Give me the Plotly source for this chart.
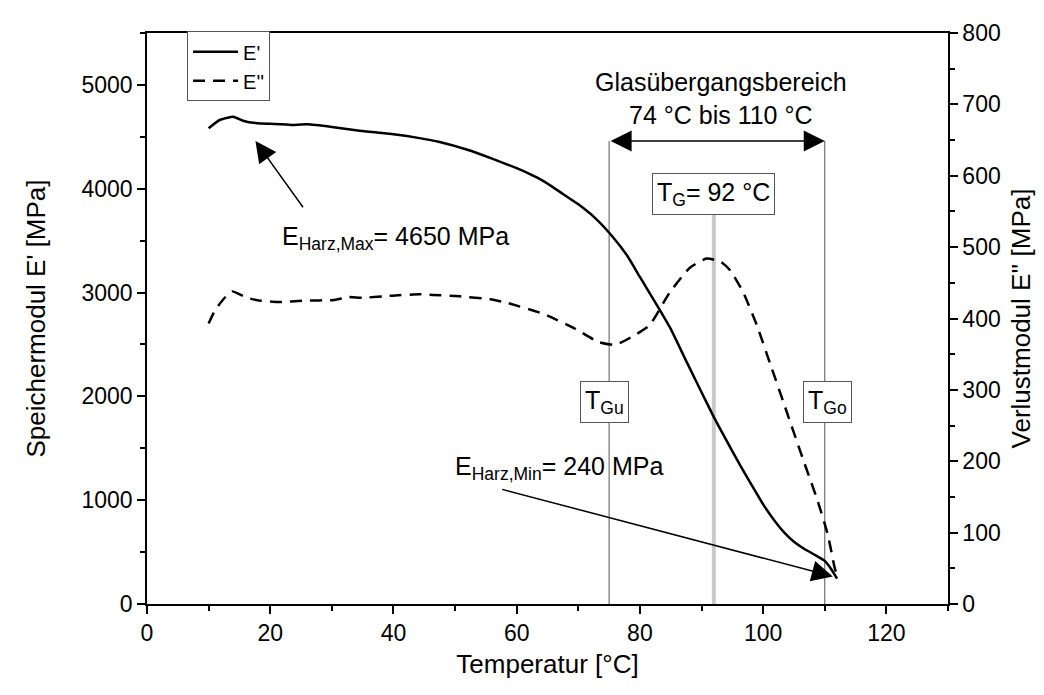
import plotly.graph_objects as go

# ---- data ----
temp_storage = [10, 11.8, 14, 15.7, 17.9, 20, 23.4, 26, 30, 33, 36, 40, 44, 47.5, 52, 56, 60, 62,
                64, 65.5, 67, 70, 72.7, 75.4, 78, 80, 83, 85, 87.5, 90, 92, 94, 96.3, 98, 100, 102,
                103.4, 105, 106.7, 108.5, 110, 111, 112]
e_storage = [4583, 4662, 4694, 4653, 4631, 4625, 4615, 4620, 4595, 4570, 4548, 4525, 4490, 4450,
             4375, 4290, 4198, 4145, 4085, 4030, 3970, 3850, 3720, 3550, 3350, 3150, 2855, 2650,
             2342, 2040, 1800, 1580, 1332, 1160, 960, 790, 690, 600, 530, 470, 415, 340, 245]

temp_loss = [10, 11, 12.4, 13.8, 16.2, 18.4, 21.2, 25.5, 30.4, 32.7, 34.9, 39.8, 44.2, 46.4, 50.8,
             55.7, 58.4, 64.5, 69.4, 73.3, 76, 78.2, 81.5, 84.8, 88.1, 90.8, 93, 94.6, 96.8, 99,
             101.2, 103.4, 106.1, 108.9, 110.5, 111.6, 112]
e_loss = [393, 411, 427, 438, 429, 425, 423, 425, 426, 430, 429, 432, 434, 433, 431, 427, 422,
          406, 386, 367, 363, 372, 390, 436, 471, 484, 480, 468, 436, 390, 335, 280, 212, 143,
          97, 51, 40]

t_lower, t_glass, t_upper = 75, 92, 110
e_max_point = (17.6, 4460)
e_min_point = (111.3, 265)

x_ticks = [0, 20, 40, 60, 80, 100, 120]
y1_ticks = [0, 1000, 2000, 3000, 4000, 5000]
y2_ticks = [0, 100, 200, 300, 400, 500, 600, 700, 800]

FONT = "Arial, Liberation Sans, sans-serif"

fig = go.Figure()
fig.add_trace(go.Scatter(x=temp_storage, y=e_storage, name="E'", mode="lines",
                         line=dict(color="black", width=2.5, shape="spline", smoothing=0.4),
                         yaxis="y"))
fig.add_trace(go.Scatter(x=temp_loss, y=e_loss, name="E''", mode="lines",
                         line=dict(color="black", width=2.5, dash="12px,8px", shape="spline", smoothing=0.5),
                         yaxis="y2"))

arrow_y = 4460
line_col = "#555555"
shapes = [
    dict(type="line", xref="x", yref="y", x0=t_lower, x1=t_lower, y0=0, y1=arrow_y,
         line=dict(color=line_col, width=1), layer="below"),
    dict(type="line", xref="x", yref="y", x0=t_upper, x1=t_upper, y0=0, y1=arrow_y,
         line=dict(color=line_col, width=1), layer="below"),
    dict(type="line", xref="x", yref="y", x0=t_glass, x1=t_glass, y0=0, y1=3900,
         line=dict(color="#c8c8c8", width=4), layer="below"),
]

box = dict(bordercolor=line_col, borderwidth=1, bgcolor="white", borderpad=4,
           showarrow=False, font=dict(size=25, color="black", family=FONT))

annotations = [
    # double arrow glass transition range
    dict(x=t_upper, y=arrow_y, ax=t_lower, ay=arrow_y, xref="x", yref="y", axref="x", ayref="y",
         text="", showarrow=True, arrowhead=2, startarrowhead=2, arrowside="end+start",
         arrowsize=2.8, startarrowsize=2.8, arrowwidth=1.5, arrowcolor="black"),
    dict(x=93.1, y=4867, xref="x", yref="y", text="Glasübergangsbereich<br>74 °C bis 110 °C",
         showarrow=False, font=dict(size=25, color="black", family=FONT)),
    dict(x=92.0, y=3945, xref="x", yref="y", text="T<sub>G</sub>= 92 °C", **box),
    dict(x=74.3, y=1950, xref="x", yref="y", text="T<sub>Gu</sub>", **box),
    dict(x=110.4, y=1950, xref="x", yref="y", text="T<sub>Go</sub>", **box),
    # E max
    dict(x=e_max_point[0], y=e_max_point[1], ax=25.5, ay=3807, xref="x", yref="y",
         axref="x", ayref="y", text="", showarrow=True, arrowhead=2, arrowsize=2.8,
         arrowwidth=1.5, arrowcolor="black"),
    dict(x=40.3, y=3523, xref="x", yref="y", text="E<sub>Harz,Max</sub>= 4650 MPa",
         showarrow=False, font=dict(size=25, color="black", family=FONT)),
    # E min
    dict(x=e_min_point[0], y=e_min_point[1], ax=57.4, ay=1108, xref="x", yref="y",
         axref="x", ayref="y", text="", showarrow=True, arrowhead=2, arrowsize=2.8,
         arrowwidth=1.5, arrowcolor="black"),
    dict(x=66.8, y=1307, xref="x", yref="y", text="E<sub>Harz,Min</sub>= 240 MPa",
         showarrow=False, font=dict(size=25, color="black", family=FONT)),
]

axis_common = dict(showline=True, linecolor="black", linewidth=1.5, ticks="outside",
                   ticklen=8, tickwidth=1.5, tickcolor="black", showgrid=False, zeroline=False,
                   tickfont=dict(size=23, color="black", family=FONT))

fig.update_layout(
    width=1036, height=687,
    margin=dict(l=139, r=96, t=14, b=91),
    plot_bgcolor="white", paper_bgcolor="white",
    font=dict(family=FONT, color="black"),
    xaxis=dict(range=[0, 130], tickvals=x_ticks, mirror=True,
               minor=dict(dtick=10, tick0=0, ticklen=5, ticks="outside", tickcolor="black", tickwidth=1.5),
               title=dict(text="Temperatur [°C]", font=dict(size=26, color="black", family=FONT), standoff=9),
               **axis_common),
    yaxis=dict(range=[0, 5500], tickvals=y1_ticks,
               minor=dict(dtick=500, tick0=0, ticklen=5, ticks="outside", tickcolor="black", tickwidth=1.5),
               title=dict(text="Speichermodul E' [MPa]", font=dict(size=26, color="black", family=FONT), standoff=28),
               **axis_common),
    yaxis2=dict(range=[0, 800], tickvals=y2_ticks, overlaying="y", side="right",
                minor=dict(dtick=50, tick0=0, ticklen=5, ticks="outside", tickcolor="black", tickwidth=1.5),
                title=dict(text="Verlustmodul E'' [MPa]", font=dict(size=26, color="black", family=FONT), standoff=12),
                **axis_common),
    legend=dict(x=0.05, y=1.003, xanchor="left", yanchor="top", bgcolor="white",
                bordercolor=line_col, borderwidth=1, font=dict(size=20, color="black", family=FONT),
                itemwidth=45, tracegroupgap=0),
    shapes=shapes,
    annotations=annotations,
    showlegend=True,
)

fig.write_html("out.html")
